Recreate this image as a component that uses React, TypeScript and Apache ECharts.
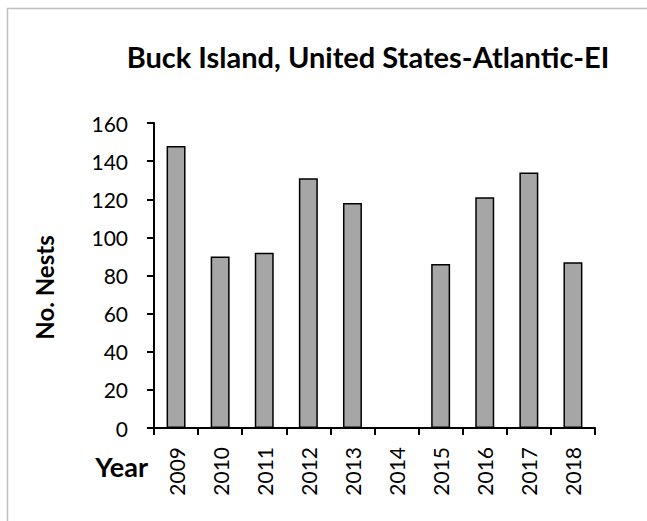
import React, { useEffect, useRef } from "react";
import * as echarts from "echarts";

const title = "Buck Island, United States-Atlantic-EI";
const years = ["2009", "2010", "2011", "2012", "2013", "2014", "2015", "2016", "2017", "2018"];
const nests: (number | null)[] = [148, 90, 92, 131, 118, null, 86, 121, 134, 87];
const yTicks = { min: 0, max: 160, interval: 20 };
const yName = "No. Nests";
const xName = "Year";

const FONT = "Lato";

export default function App() {
  const ref = useRef<HTMLDivElement>(null);
  useEffect(() => {
    if (!ref.current) return;
    const chart = echarts.init(ref.current, null, { renderer: "svg" });
    chart.setOption({
      animation: false,
      backgroundColor: "#ffffff",
      textStyle: { fontFamily: FONT, color: "#000" },
      title: {
        text: title,
        left: 363,
        top: 37,
        textAlign: "center",
        textStyle: { fontFamily: FONT, fontSize: 29, fontWeight: "bold", color: "#000" },
      },
      graphic: [
        {
          type: "rect",
          shape: { x: 7.5, y: 8.5, width: 700, height: 600 },
          style: { fill: "none", stroke: "#bfbfbf", lineWidth: 1.5 },
          silent: true,
        },
        {
          type: "text",
          x: 148,
          y: 466,
          style: {
            text: xName,
            font: `bold 27px ${FONT}`,
            fill: "#000",
            textAlign: "right",
            textVerticalAlign: "middle",
          },
          silent: true,
        },
      ],
      grid: { left: 154, right: 52, top: 123, bottom: 93 },
      xAxis: {
        type: "category",
        data: years,
        axisLine: { lineStyle: { color: "#000", width: 2 } },
        axisTick: { show: true, length: 7, lineStyle: { color: "#000", width: 2 } },
        axisLabel: {
          rotate: 90,
          fontFamily: FONT,
          fontSize: 21,
          color: "#000",
          margin: 19,
        },
      },
      yAxis: {
        type: "value",
        min: yTicks.min,
        max: yTicks.max,
        interval: yTicks.interval,
        name: yName,
        nameLocation: "middle",
        nameGap: 98,
        nameRotate: 90,
        nameTextStyle: {
          fontFamily: FONT,
          fontSize: 24,
          fontWeight: "bold",
          color: "#000",
          padding: [0, 24, 0, 0],
        },
        axisLine: { show: true, lineStyle: { color: "#000", width: 2 } },
        axisTick: { show: true, length: 7, lineStyle: { color: "#000", width: 2 } },
        splitLine: { show: false },
        axisLabel: { fontFamily: FONT, fontSize: 21, color: "#000", margin: 26 },
      },
      series: [
        {
          type: "bar",
          data: nests,
          barWidth: "43%",
          itemStyle: { color: "#a6a6a6", borderColor: "#000", borderWidth: 1.5 },
        },
      ],
    });
    return () => chart.dispose();
  }, []);
  return (
    <div
      ref={ref}
      style={{ position: "absolute", left: 0, top: 0, width: 647, height: 521 }}
    />
  );
}
